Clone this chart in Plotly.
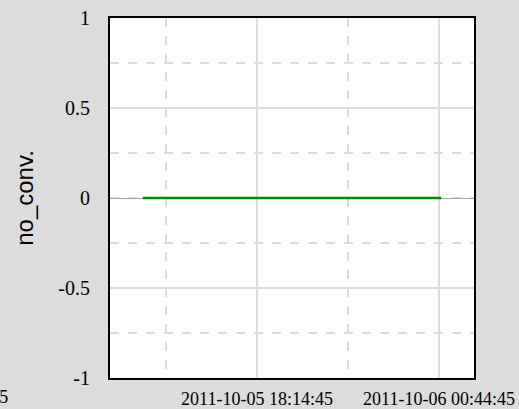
import plotly.graph_objects as go

# data
times = ["2011-10-05 14:10:00", "2011-10-06 00:49:00"]
no_conv = [0, 0]
x_range = ["2011-10-05 12:59:45", "2011-10-06 01:59:45"]
x_tick0 = "2011-10-05 18:14:45"
x_dtick_ms = 6.5 * 3600 * 1000
y_range = [-1, 1]
y_tickvals = [-1, -0.5, 0, 0.5, 1]
y_ticktext = ["-1", "-0.5", "0", "0.5", "1"]
y_title = "no_conv."
cut_label = "2011-10-05 11:44:45"

fig = go.Figure()
fig.add_trace(go.Scatter(x=times, y=no_conv, mode="lines",
                         line=dict(color="#008a00", width=2.5), showlegend=False))

grid_col = "#dcdcdc"
serif = "Liberation Serif, Times New Roman, serif"

fig.update_layout(
    width=519, height=409,
    margin=dict(l=110, r=45, t=18, b=31),
    paper_bgcolor="#dcdcdc", plot_bgcolor="white",
    xaxis=dict(
        type="date", range=x_range, tick0=x_tick0, dtick=x_dtick_ms,
        tickformat="%Y-%m-%d %H:%M:%S", automargin=False,
        tickfont=dict(family=serif, size=18, color="black"),
        showgrid=True, gridcolor=grid_col, gridwidth=1.5,
        minor=dict(dtick=x_dtick_ms / 2, tick0=x_tick0, showgrid=True,
                   gridcolor=grid_col, gridwidth=1.5, griddash="dash"),
        showline=True, linecolor="black", linewidth=2, mirror=True,
        ticks="outside", ticklen=3, tickcolor="rgba(0,0,0,0)",
        zeroline=False,
    ),
    yaxis=dict(
        range=y_range, tickmode="array", tickvals=y_tickvals, ticktext=y_ticktext,
        automargin=False,
        tickfont=dict(family=serif, size=20, color="black"),
        showgrid=True, gridcolor=grid_col, gridwidth=1.5,
        minor=dict(dtick=0.25, tick0=0, showgrid=True,
                   gridcolor=grid_col, gridwidth=1.5, griddash="dash"),
        showline=True, linecolor="black", linewidth=2, mirror=True,
        ticks="outside", ticklen=14, tickcolor="rgba(0,0,0,0)",
        zeroline=True, zerolinecolor="#a8a898", zerolinewidth=1,
        title=dict(text=y_title, font=dict(family="Liberation Sans, Arial, sans-serif",
                                           size=24, color="black"), standoff=18),
    ),
)

fig.add_annotation(xref="paper", yref="paper", x=(10 - 110) / 364, y=0,
                   xanchor="right", yanchor="top", yshift=-7, showarrow=False,
                   text=cut_label, font=dict(family=serif, size=18, color="black"))

fig.write_html("out.html", config={"displayModeBar": False},
               post_script="document.body.style.margin='0';")
